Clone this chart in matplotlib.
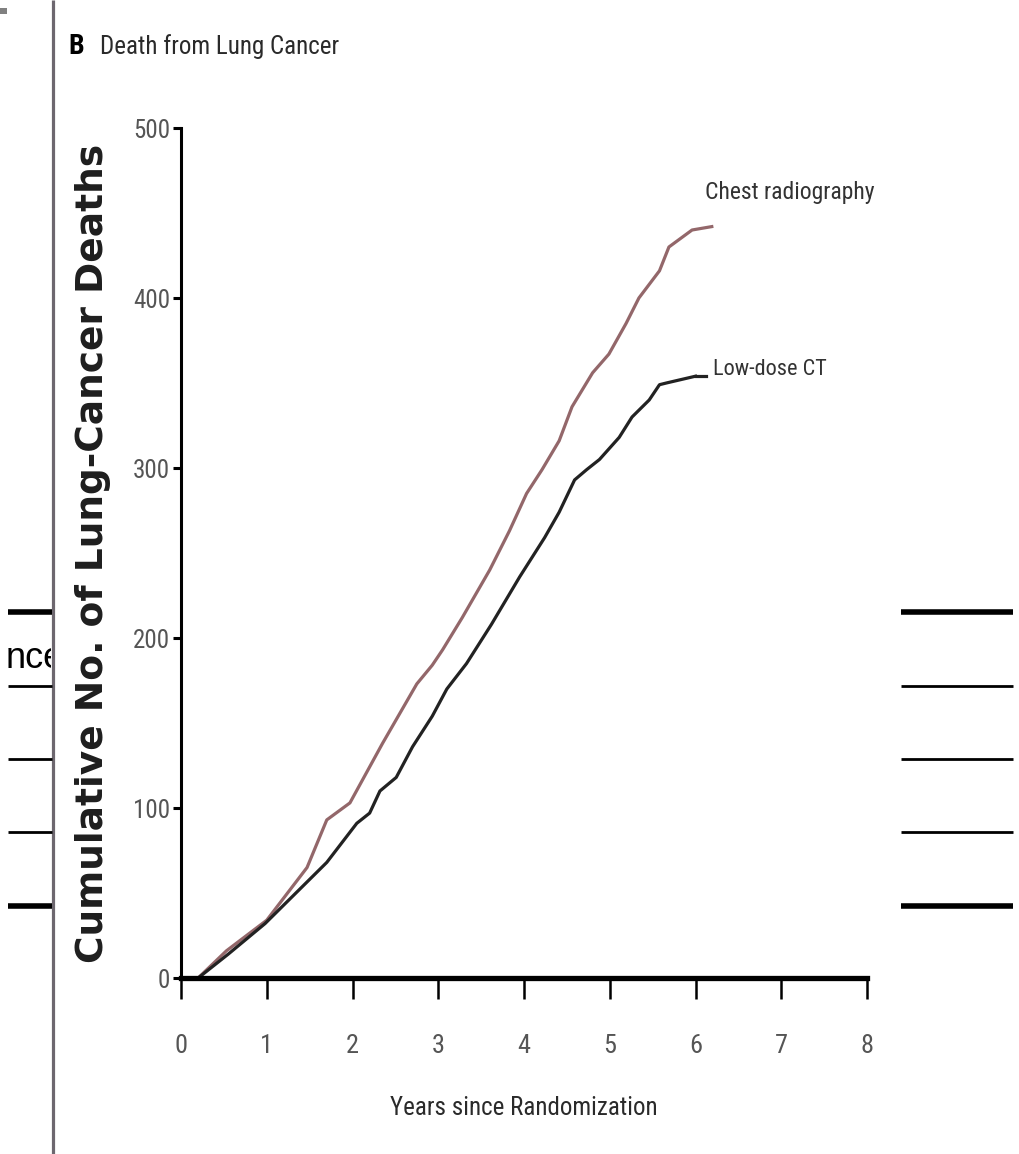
import matplotlib
matplotlib.use('Agg')
import matplotlib.pyplot as plt
from matplotlib import font_manager
from matplotlib.patches import Rectangle
from matplotlib.transforms import Bbox, TransformedBbox

# cumulative lung-cancer deaths by years since randomization
years_cxr = [0.2, 0.53, 1.0, 1.47, 1.70, 1.97, 2.35, 2.75, 2.93, 3.05, 3.28, 3.6, 3.83,
             4.03, 4.21, 4.41, 4.56, 4.8, 4.99, 5.19, 5.34, 5.58, 5.69, 5.96, 6.19]
deaths_cxr = [0, 16, 34, 65, 93, 103, 138, 173, 184, 193, 212, 240, 263,
              285, 299, 316, 336, 356, 367, 385, 400, 416, 430, 440, 442]

years_ct = [0.2, 0.55, 0.98, 1.5, 1.70, 2.05, 2.2, 2.32, 2.51, 2.70, 2.93, 3.1, 3.33,
            3.62, 3.95, 4.24, 4.41, 4.59, 4.73, 4.88, 5.11, 5.26, 5.46, 5.58, 5.66, 6.0]
deaths_ct = [0, 14, 32, 58, 68, 91, 97, 110, 118, 136, 154, 170, 185,
             208, 236, 259, 274, 293, 299, 305, 318, 330, 340, 349, 350, 354]

series_names = ['Chest radiography', 'Low-dose CT']
x_ticks = [0, 1, 2, 3, 4, 5, 6, 7, 8]
y_ticks = [0, 100, 200, 300, 400, 500]

# pick a narrow face for the panel text
fonts = font_manager.fontManager.ttflist
names = {f.name for f in fonts}
narrow = dict(family='Roboto')
for cand in ['Liberation Sans Narrow', 'Roboto Condensed', 'Open Sans Condensed',
             'Noto Sans Condensed', 'DejaVu Sans Condensed']:
    if cand in names:
        narrow = dict(family=cand)
        break
else:
    for f in fonts:
        if f.name in ('DejaVu Sans', 'Noto Sans', 'Open Sans', 'Roboto') and \
                str(f.stretch) in ('condensed', '75', '62.5'):
            narrow = dict(family=f.name, fontstretch='condensed')
            break

W, H = 1019, 1154
fig = plt.figure(figsize=(W / 100, H / 100), dpi=100)
fig.patch.set_facecolor('white')

# page furniture behind the panel: divider and table rules
bg = fig.add_axes([0, 0, 1, 1])
bg.set_xlim(0, W)
bg.set_ylim(H, 0)
bg.axis('off')
bg.plot([53, 53], [0, H], color='#6d676f', lw=2.3, solid_capstyle='butt')
rules = [(612, 4.0), (686, 2.0), (759, 2.0), (832, 2.0), (906, 4.0)]
for yy, lw in rules:
    bg.plot([8, 52], [yy, yy], color='black', lw=lw, solid_capstyle='butt')
    bg.plot([901, 1013], [yy, yy], color='black', lw=lw, solid_capstyle='butt')
word = bg.text(6, 658, 'nce', fontsize=26, family='Liberation Sans',
               ha='left', va='center', color='black', clip_on=True)
word.set_clip_box(TransformedBbox(Bbox([[0, 0], [51, H]]), bg.transData))
bg.add_patch(Rectangle((0, 8), 7, 6, color='#808080', lw=0))

# title
bg.text(68, 47, 'B', fontsize=20, fontweight='bold', ha='left', va='center',
        color='black', **narrow)
bg.text(100, 47, 'Death from Lung Cancer', fontsize=18, ha='left', va='center',
        color='#2a2a2a', **narrow)

ax = fig.add_axes([181 / W, (H - 978) / H, 686 / W, 850 / H])
ax.set_xlim(0, 8)
ax.set_ylim(0, 500)
ax.plot(years_cxr, deaths_cxr, color='#93676a', lw=2.3, solid_joinstyle='round')
ax.plot(years_ct, deaths_ct, color='#222222', lw=2.3, solid_joinstyle='round')
ax.plot([years_ct[-1], years_ct[-1] + 0.12], [deaths_ct[-1], deaths_ct[-1]],
        color='#222222', lw=2.3)

ax.text(6.11, 462, series_names[0], fontsize=17, ha='left', va='center',
        color='#333333', **narrow)
ax.text(6.2, 358, series_names[1], fontsize=16, ha='left', va='center',
        color='#333333', **narrow)

for side in ['top', 'right']:
    ax.spines[side].set_visible(False)
ax.spines['left'].set_linewidth(2.2)
ax.spines['bottom'].set_linewidth(3.8)
ax.spines['left'].set_bounds(0, 500)
ax.set_xticks(x_ticks)
ax.set_yticks(y_ticks)
ax.tick_params(axis='x', direction='out', length=15, width=1.8, pad=25,
               labelsize=19, labelcolor='#555555')
ax.tick_params(axis='y', direction='out', length=6, width=2.2, pad=2,
               labelsize=18, labelcolor='#555555')
for lab in ax.get_xticklabels() + ax.get_yticklabels():
    lab.set_family(narrow['family'])
    if 'fontstretch' in narrow:
        lab.set_fontstretch(narrow['fontstretch'])

ax.set_xlabel('Years since Randomization', fontsize=18, color='#2a2a2a',
              labelpad=28, **narrow)
ax.set_ylabel('Cumulative No. of Lung-Cancer Deaths', fontsize=27,
              fontweight='bold', color='#1e1e1e')
ax.yaxis.set_label_coords(-0.102, 0.5)

fig.savefig('out.png', dpi=100, facecolor='white')
